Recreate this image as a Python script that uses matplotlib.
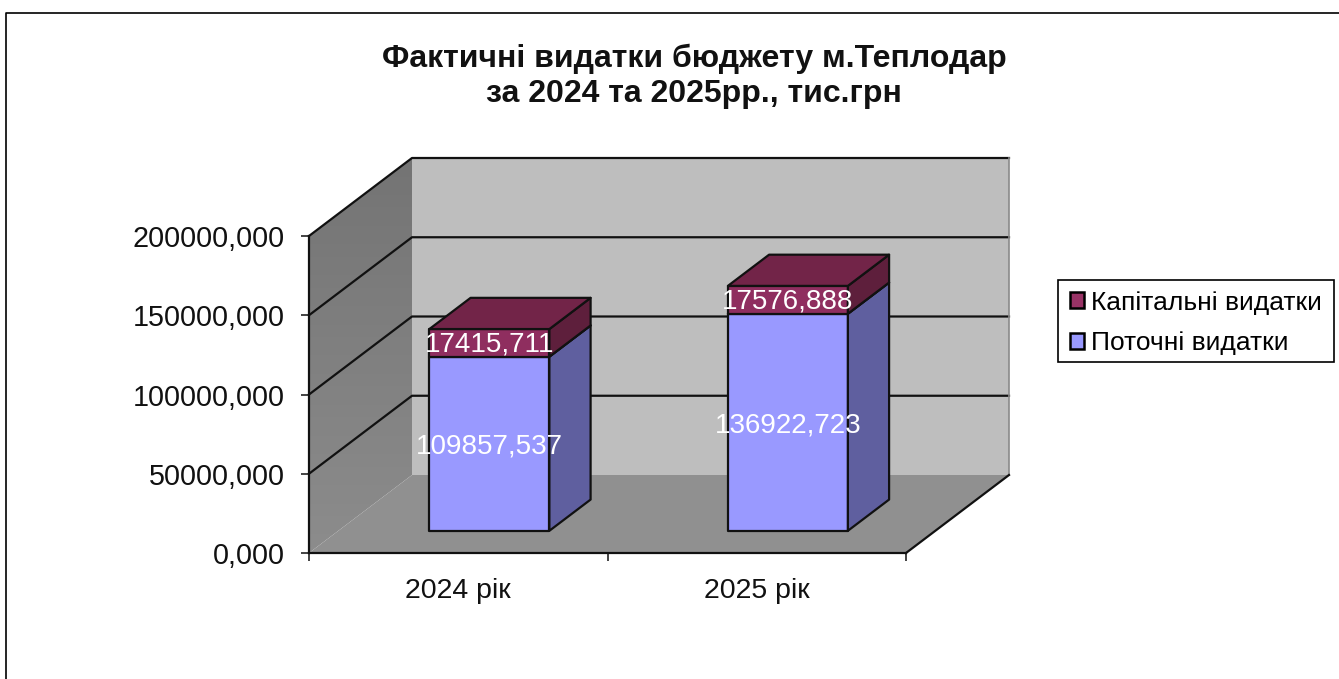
import matplotlib
matplotlib.use("Agg")
import matplotlib.pyplot as plt
import numpy as np
from matplotlib.colors import LinearSegmentedColormap
from matplotlib.lines import Line2D
from matplotlib.patches import Patch, Polygon, Rectangle

plt.rcParams["font.family"] = ["Liberation Sans", "DejaVu Sans"]

years = ["2024 рік", "2025 рік"]
current = [109857.537, 136922.723]
capital = [17415.711, 17576.888]
y_ticks = [0, 50000, 100000, 150000, 200000]
title = "Фактичні видатки бюджету м.Теплодар\nза 2024 та 2025рр., тис.грн"

W, H = 1339, 679
PX_X = 298.5         # px per category
PX_Y = 317 / 200000  # px per value unit
X0, Y0 = 309, 553    # px position of the axes origin

# oblique depth of the chart box, as px offset converted to data units
DX = 103 / PX_X
DY = 78 / PX_Y
BAR_W = 120 / PX_X
BAR_D0, BAR_D1 = 0.285, 0.685
LINE = "#111111"


def proj(x, v, d=0.0):
    return x + d * DX, v + d * DY


def face(ax, corners, color, z=3, lw=1.6):
    xs, ys = zip(*[proj(*c) for c in corners])
    ax.fill(xs, ys, facecolor=color, edgecolor=LINE, linewidth=lw,
            joinstyle="round", zorder=z)


def box(ax, x, v0, v1, front, side, top, z):
    x0, x1 = x - BAR_W / 2, x + BAR_W / 2
    a, b = BAR_D0, BAR_D1
    face(ax, [(x0, v0, a), (x1, v0, a), (x1, v1, a), (x0, v1, a)], front, z)
    face(ax, [(x1, v0, a), (x1, v0, b), (x1, v1, b), (x1, v1, a)], side, z)
    face(ax, [(x0, v1, a), (x1, v1, a), (x1, v1, b), (x0, v1, b)], top, z)


fig = plt.figure(figsize=(W / 100, H / 100), dpi=100)
ax = fig.add_axes([0, 0, 1, 1])
ax.patch.set_alpha(0)

top = y_ticks[-1]
n = len(years)

# side wall has a soft shade, darker towards the top
wall = [proj(0, 0), proj(0, 0, 1), proj(0, top, 1), proj(0, top)]
shade = LinearSegmentedColormap.from_list("wall", ["#747474", "#8c8c8c"])
img = ax.imshow(np.linspace(0, 1, 64).reshape(-1, 1), cmap=shade, aspect="auto",
                extent=(0, DX, 0, top + DY), origin="upper", zorder=1)
img.set_clip_path(Polygon(wall, transform=ax.transData))

ax.set_xlim(-X0 / PX_X, (W - X0) / PX_X)
ax.set_ylim(-(H - Y0) / PX_Y, Y0 / PX_Y)

ax.fill(*zip(proj(0, 0, 1), proj(n, 0, 1), proj(n, top, 1), proj(0, top, 1)),
        color="#bebebe", lw=0, zorder=1)
ax.fill(*zip(proj(0, 0), proj(n, 0), proj(n, 0, 1), proj(0, 0, 1)),
        color="#909090", lw=0, zorder=1)

for v in y_ticks[1:]:
    ax.plot(*zip(proj(0, v), proj(0, v, 1), proj(n, v, 1)),
            color=LINE, lw=1.6, zorder=2)
ax.plot(*zip(proj(n, 0, 1), proj(n, top, 1)), color="#8a8a8a", lw=1.2, zorder=2)
ax.plot(*zip(proj(n, 0), proj(n, 0, 1)), color=LINE, lw=1.6, zorder=2)

for i in range(n):
    x = i + 0.5 + 0.006
    total = current[i] + capital[i]
    box(ax, x, 0, current[i], "#9999ff", "#5f5f9f", "#5f5f9f", 3)
    box(ax, x, current[i], total, "#8f2e5f", "#5e1f3c", "#722448", 4)
    lx, _ = proj(x, 0, BAR_D0)
    _, ly0 = proj(x, current[i] / 2, BAR_D0)
    _, ly1 = proj(x, current[i] + capital[i] / 2, BAR_D0)
    ax.annotate(f"{current[i]:.3f}".replace(".", ","), (lx, ly0),
                xytext=(0, -2), textcoords="offset points", color="white",
                fontsize=20, ha="center", va="center", zorder=6)
    ax.annotate(f"{capital[i]:.3f}".replace(".", ","), (lx, ly1),
                xytext=(0, -1.5), textcoords="offset points", color="white",
                fontsize=20, ha="center", va="center", zorder=6)

# axes lines, ticks and labels
for name in ("top", "right"):
    ax.spines[name].set_visible(False)
ax.spines["left"].set_position(("data", 0))
ax.spines["left"].set_bounds(0, top)
ax.spines["bottom"].set_position(("data", 0))
ax.spines["bottom"].set_bounds(0, n)
for name in ("left", "bottom"):
    ax.spines[name].set_linewidth(1.6)
    ax.spines[name].set_color(LINE)

ax.set_yticks(y_ticks)
ax.set_yticklabels([f"{v:.3f}".replace(".", ",") for v in y_ticks])
ax.set_xticks(range(n + 1))
ax.set_xticklabels([])
ax.set_xticks([i + 0.5 for i in range(n)], minor=True)
ax.set_xticklabels(years, minor=True)
ax.tick_params(axis="y", which="major", labelsize=20.7, length=6, width=1.1,
               pad=11.5, colors=LINE)
ax.tick_params(axis="x", which="major", length=6, width=1.1, colors=LINE)
ax.tick_params(axis="x", which="minor", length=0, labelsize=20.5, pad=18,
               colors=LINE)

fig.text(694 / W, 1 - 76 / H, title, ha="center", va="center", fontsize=23,
         fontweight="bold", linespacing=1.22, color=LINE)

# legend box drawn apart, its padding differs between width and height
fig.add_artist(Rectangle((1057.5 / W, 1 - 362 / H), 276 / W, 82 / H,
                         transform=fig.transFigure, facecolor="white",
                         edgecolor="black", linewidth=1.2))
handles = [Patch(facecolor="#993366", edgecolor="black", linewidth=1.8),
           Patch(facecolor="#9999ff", edgecolor="black", linewidth=1.8)]
leg = fig.legend(handles, ["Капітальні видатки", "Поточні видатки"],
                 loc="center left",
                 bbox_to_anchor=(1061 / W, 1 - 323 / H),
                 fontsize=19, frameon=False,
                 handlelength=0.55, handleheight=0.55,
                 handletextpad=0.25, labelspacing=0.63, borderpad=0.34,
                 borderaxespad=0)

# chart border, runs off the right and bottom of the picture
fig.add_artist(Line2D([6.5 / W, 6.5 / W, 1], [0, 1 - 12.5 / H, 1 - 12.5 / H],
                      color="black", lw=1.2))

fig.savefig("out.png", dpi=100)
